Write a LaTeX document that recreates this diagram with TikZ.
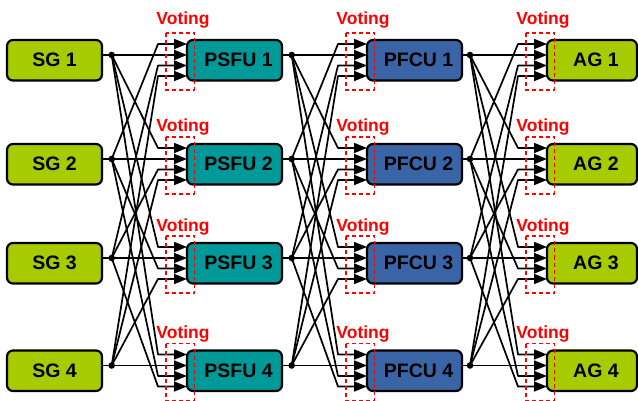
\documentclass[tikz,border=0pt]{standalone}
\usepackage{fontspec}
\setmainfont{Liberation Sans}
\usetikzlibrary{arrows.meta}
\definecolor{limegreen}{RGB}{168,202,0}
\definecolor{tealbox}{RGB}{0,153,153}
\definecolor{bluebox}{RGB}{57,101,166}
\definecolor{votered}{RGB}{255,0,0}
\begin{document}
\begin{tikzpicture}[x=1pt,y=-1pt,
  box/.style={draw=black,line width=2.2pt,rounded corners=6pt,anchor=north west,
    minimum width=95pt,minimum height=40.5pt,inner sep=0pt,outer sep=0pt,
    font=\bfseries\fontsize{19.5}{21}\selectfont},
  wire/.style={line width=1.7pt,line join=round,-{Triangle[length=13pt,width=10pt]}},
  plainwire/.style={line width=1.7pt},
  votebox/.style={draw=votered,line width=1.6pt,dash pattern=on 4pt off 3pt},
  vote/.style={text=votered,font=\bfseries\fontsize{17.5}{18}\selectfont,inner sep=0pt}]
\useasboundingbox (0,0) rectangle (638,401);
% boxes and coordinates
\foreach \r/\T in {1/40,2/144,3/243,4/350.5}{
  \node[box,fill=limegreen] (sg\r) at (7,\T) {SG \r};
  \node[box,fill=tealbox] (psfu\r) at (187,\T) {\hspace*{8pt}PSFU \r};
  \node[box,fill=bluebox] (pfcu\r) at (367,\T) {\hspace*{8pt}PFCU \r};
  \node[box,fill=limegreen,minimum width=90pt] (ag\r) at (547,\T) {\hspace*{8pt}AG \r};
  \foreach \n/\dx in {sg/111.7,psfu/291.7,pfcu/470}
    \coordinate (\n d\r) at (\dx,\T+15);
  \foreach \n/\L in {psfu/187,pfcu/367,ag/547}
    \foreach \k/\o in {1/4,2/15,3/25.5,4/36}{
      \coordinate (\n p\r-\k) at (\L,\T+\o);
      \coordinate (\n b\r-\k) at (\L-29,\T+\o);
    }
}
% connectors
\foreach \src/\dst in {sg/psfu,psfu/pfcu,pfcu/ag}{
  \foreach \t/\s/\k in {1/2/1,1/1/2,1/3/3,1/4/4,
                        2/1/1,2/2/2,2/3/3,2/4/4,
                        3/1/1,3/3/2,3/2/3,3/4/4,
                        4/1/1,4/4/2,4/2/3,4/3/4}
    \draw[wire] (\src d\s) -- (\dst b\t-\k) -- (\dst p\t-\k);
  \foreach \r in {1,2,3,4}{
    \draw[plainwire] (\src\r.east |- \src d\r) -- (\src d\r);
    \fill (\src d\r) circle[radius=3.3pt];
  }
}
% voting boxes
\foreach \n/\L in {psfu/187,pfcu/367,ag/547}
  \foreach \r/\T/\V in {1/40/20,2/144/127.5,3/243/227.5,4/350.5/334}{
    \draw[votebox] (\L-21,\T-7) rectangle (\L+7.5,\T+50);
    \node[vote] (v\n\r) at (\L-4,\V) {Voting};
  }
\end{tikzpicture}
\end{document}
